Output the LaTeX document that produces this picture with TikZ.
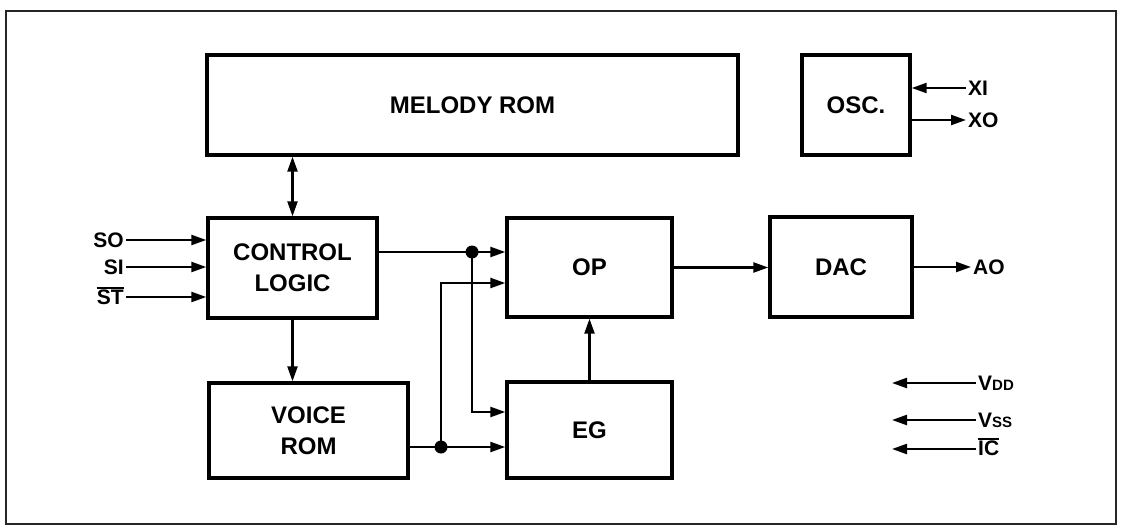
\documentclass[tikz,border=0pt]{standalone}
\usepackage{fontspec}
\setmainfont{Liberation Sans}
\usetikzlibrary{arrows.meta}
\newcommand\myovl[1]{\leavevmode\vbox{\hrule height 1.8pt\kern1.6pt\hbox{#1}}}
\begin{document}
\begin{tikzpicture}[x=1pt,y=-1pt,
  blk/.style={draw,line width=3.4pt,minimum width=#1,inner sep=0pt,font=\fontsize{24}{31}\selectfont\bfseries,align=center},
  lbl/.style={inner sep=2pt,font=\fontsize{21}{22}\selectfont\bfseries},
  conn/.style={line width=2.3pt,-{Triangle[length=15pt,width=10pt]}},
  dconn/.style={line width=2.3pt,{Triangle[length=15pt,width=10pt]}-{Triangle[length=15pt,width=10pt]}},
  jdot/.style={circle,fill,inner sep=0pt,minimum size=13pt}]
\useasboundingbox (0,0) rectangle (1122,527);
\draw[line width=1.6pt,black!85] (6,11) rectangle (1116,524);
% blocks
\node[blk=531pt,minimum height=100pt] (melody) at (472.5,105) {MELODY ROM};
\node[blk=108pt,minimum height=100pt] (osc) at (856,105) {OSC.};
\node[blk=169pt,minimum height=100pt] (ctrl) at (292.5,268) {CONTROL\\LOGIC};
\node[blk=165pt,minimum height=99pt] (op) at (589.5,267.5) {OP};
\node[blk=142pt,minimum height=100pt] (dac) at (841,267) {DAC};
\node[blk=199pt,minimum height=95pt] (voice) at (308.5,430.5) {VOICE\\ROM};
\node[blk=165pt,minimum height=96pt] (eg) at (589.5,430) {EG};
% labels
\node[lbl,anchor=east] (so) at (126,240) {SO};
\node[lbl,anchor=east] (si) at (126,267) {SI};
\node[lbl,anchor=east] (st) at (126,296) {\myovl{ST}};
\node[lbl,anchor=west] (xi) at (966,88) {XI};
\node[lbl,anchor=west] (xo) at (966,120) {XO};
\node[lbl,anchor=west] (ao) at (971,267) {AO};
\node[lbl,anchor=west] (vdd) at (976,383) {V{\fontsize{15}{16}\selectfont DD}};
\node[lbl,anchor=west] (vss) at (976,420) {V{\fontsize{15}{16}\selectfont SS}};
\node[lbl,anchor=west] (ic) at (976,447) {\myovl{IC}};
\coordinate (pvdd) at (892,383);
\coordinate (pvss) at (892,420);
\coordinate (pic) at (892,449);
% junctions
\coordinate (j1) at (472,252);
\coordinate (j2) at (441,447);
% connectors
\draw[dconn] (ctrl.north) -- (ctrl.north |- melody.south);
\draw[conn] (ctrl.south) -- (ctrl.south |- voice.north);
\draw[conn] (so.east) -- (ctrl.west |- so);
\draw[conn] (si.east) -- (ctrl.west |- si);
\draw[conn] (st.east |- 0,297) -- (ctrl.west |- 0,297);
\draw[conn] (ctrl.east |- j1) -- (op.west |- j1);
\draw[conn] (j1) -- (j1 |- 0,412) -- (eg.west |- 0,412);
\draw[conn] (voice.east |- j2) -- (eg.west |- j2);
\draw[conn] (j2) -- (j2 |- 0,283) -- (op.west |- 0,283);
\draw[conn] (eg.north) -- (op.south);
\draw[conn] (op.east) -- (op.east -| dac.west);
\draw[conn] (dac.east |- ao) -- (ao.west);
\draw[conn] (xi.west) -- (osc.east |- xi);
\draw[conn] (osc.east |- xo) -- (xo.west);
\draw[conn] (vdd.west) -- (pvdd);
\draw[conn] (vss.west) -- (pvss);
\draw[conn] (ic.west |- pic) -- (pic);
\node[jdot] at (j1) {};
\node[jdot] at (j2) {};
\end{tikzpicture}
\end{document}
